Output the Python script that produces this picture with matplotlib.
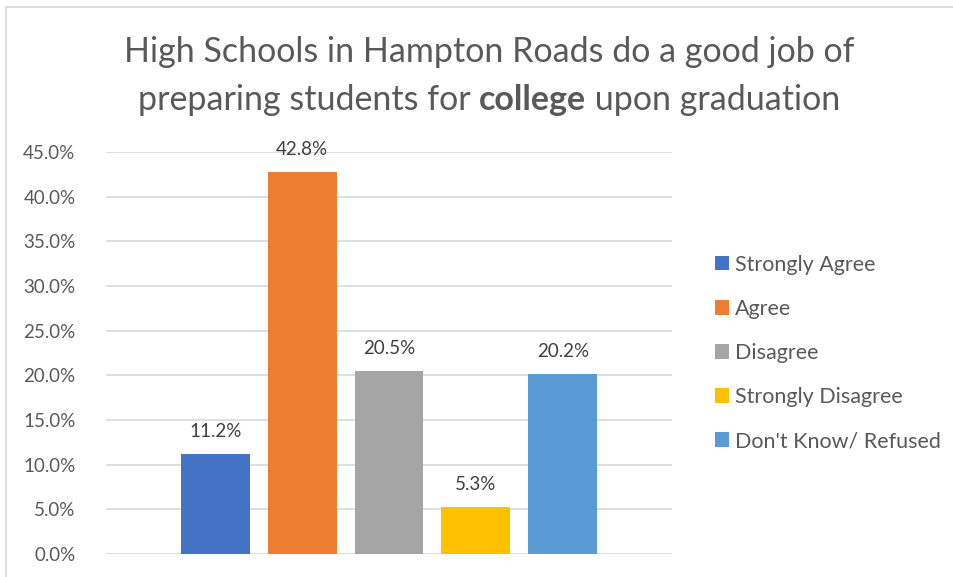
import matplotlib
matplotlib.use("Agg")
import matplotlib.pyplot as plt
from matplotlib.patches import Rectangle, Patch

categories = ["Strongly Agree", "Agree", "Disagree", "Strongly Disagree", "Don't Know/ Refused"]
values = [11.2, 42.8, 20.5, 5.3, 20.2]
colors = ["#4472C4", "#ED7D31", "#A5A5A5", "#FFC000", "#5B9BD5"]
yticks = [0, 5, 10, 15, 20, 25, 30, 35, 40, 45]

FONT = "Lato"
plt.rcParams["font.family"] = [FONT, "DejaVu Sans"]

W, H = 954, 577
fig = plt.figure(figsize=(W / 100, H / 100), dpi=100)

# chart-area border
fig.patches.append(Rectangle((6 / W, -0.1), 1.2, (H - 7) / H + 0.1, transform=fig.transFigure,
                             fill=False, edgecolor="#D9D9D9", linewidth=1.2))

ax = fig.add_axes([106 / W, (H - 554) / H, (672 - 106) / W, (554 - 152) / H])
x = list(range(len(values)))
ax.bar(x, values, width=69 / 87, color=colors, zorder=3)
ax.set_xlim(-1.259, 5.259)
ax.set_ylim(0, 45)
ax.set_yticks(yticks)
ax.set_yticklabels([f"{t:.1f}%" for t in yticks], fontsize=13.5, color="#595959")
ax.tick_params(axis="y", length=0, pad=22)
ax.set_xticks([])
for s in ax.spines.values():
    s.set_visible(False)
ax.grid(axis="y", color="#D9D9D9", linewidth=1.2, zorder=0)

for xi, v in zip(x, values):
    ax.annotate(f"{v:.1f}%", (xi, v), xytext=(0, 10), textcoords="offset points",
                ha="center", va="bottom", fontsize=13.5, color="#404040")

handles = [Patch(facecolor=c, edgecolor="none") for c in colors]
fig.legend(handles, categories, loc="center left", bbox_to_anchor=(704 / W, 1 - 353 / H),
           frameon=False, fontsize=15.5, labelcolor="#595959", handlelength=0.65,
           handleheight=0.65, handletextpad=0.3, labelspacing=1.12, borderpad=0)

# title, second line with a bold word
tcol = "#595959"
tsize = 24.5
fig.text(489 / W, 1 - 52 / H, "High Schools in Hampton Roads do a good job of",
         ha="center", va="center", fontsize=tsize, color=tcol)
parts = [("preparing students for ", "normal"), ("college", "bold"), (" upon graduation", "normal")]
fig.canvas.draw()
r = fig.canvas.get_renderer()
texts = [fig.text(0, 1 - 100 / H, s, ha="left", va="center", fontsize=tsize, color=tcol,
                  fontweight=w) for s, w in parts]
widths = [t.get_window_extent(r).width for t in texts]
total = sum(widths)
start = 489 - total / 2
for t, w in zip(texts, widths):
    t.set_x(start / W)
    start += w

fig.savefig("out.png", dpi=100)
